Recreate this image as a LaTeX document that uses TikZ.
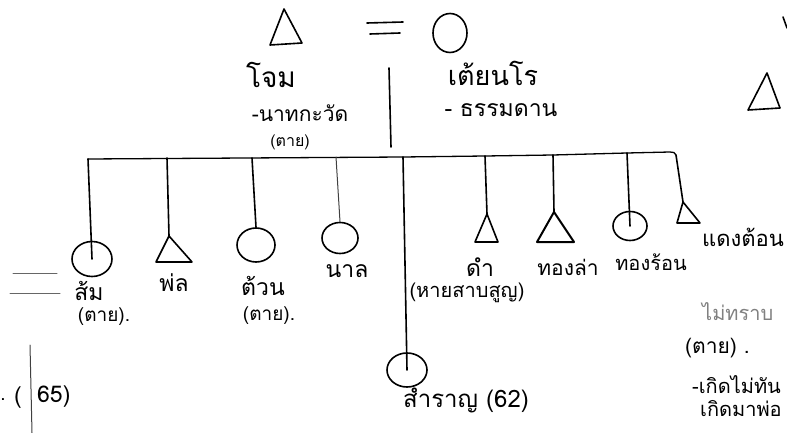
\documentclass[tikz,border=0pt]{standalone}
\usepackage{fontspec}
\newfontfamily\thai[Script=Thai]{Loma}
\usetikzlibrary{shapes.geometric}
\begin{document}
\begin{tikzpicture}[x=1pt,y=-1pt,
  hand/.style={line width=1.6pt,black,line cap=round,line join=round},
  thin hand/.style={line width=1pt,black!75,line cap=round},
  ell/.style={ellipse,draw,line width=1.6pt,inner sep=0pt},
  tri/.style={hand},
  nmtext/.style={font=\thai\fontsize{23}{25}\selectfont,inner sep=0pt},
  nttext/.style={font=\thai\fontsize{19}{21}\selectfont,inner sep=0pt}]
\useasboundingbox (0,0) rectangle (787,433);
\clip (0,0) rectangle (787,433);
% parents
\coordinate (fa) at (284,9);
\draw[tri] (fa) -- (270,45) -- (302,43) -- cycle;
\draw[hand] (367,23) -- (403,22);
\draw[hand] (370,34) -- (400,33);
\node[ell,minimum width=34pt,minimum height=39pt] (mo) at (450,33) {};
\node[nmtext,font=\thai\fontsize{28}{30}\selectfont] (tfa) at (271,75) {โจม};
\node[nmtext,font=\thai\fontsize{21}{23}\selectfont] (tfa2) at (300,113) {-นาทกะวัด};
\node[nttext,font=\thai\fontsize{16}{18}\selectfont] (tfa3) at (290,142) {(ตาย)};
\node[nmtext,font=\thai\fontsize{27}{29}\selectfont] (tmo) at (493,73) {เต้ยนโร};
\node[nmtext] (tmo2) at (501,110) {- ธรรมดาน};
\coordinate (m1) at (389,68);
\coordinate (m2) at (391,147);
\draw[hand] (m1) -- (m2);
% right triangle at top
\coordinate (rt) at (767,73);
\draw[tri] (rt) -- (748,110) -- (780,108) -- cycle;
\coordinate (ed1) at (783,17);
\coordinate (ed2) at (787,28);
\draw[hand] (ed1) -- (ed2);
% sibling bar
\coordinate (b1) at (88,159);
\coordinate (b2) at (167,158);
\coordinate (b3) at (252,158);
\coordinate (b4) at (336,157);
\coordinate (b5) at (403,157);
\coordinate (b6) at (485,156);
\coordinate (b7) at (553,155);
\coordinate (b8) at (627,153);
\coordinate (b9) at (676,155);
\draw[line width=1.3pt,line cap=round] (b1) -- (b5) -- (b6) -- (b7) -- (b8) -- (670,152) to[out=0,in=95] (b9);
% children
\node[ell,minimum width=40pt,minimum height=35pt] (som) at (92,259) {};
\draw[hand] (b1) -- (som.center);
\node[nmtext] (tsom) at (89,291) {ส้ม};
\node[nttext] (tsom2) at (104,317) {(ตาย).};

\coordinate (pol) at (169,236);
\draw[hand] (b2) -- (pol);
\draw[tri] (pol) -- (156,262) -- (192,262) -- cycle;
\node[nmtext] (tpol) at (174,283) {พ่ล};

\node[ell,minimum width=38pt,minimum height=34pt] (tuan) at (256,245) {};
\draw[hand] (b3) -- (tuan.north);
\node[nmtext] (ttuan) at (263,286) {ต้วน};
\node[nttext] (ttuan2) at (269,316) {(ตาย).};

\node[ell,minimum width=36pt,minimum height=31pt] (nal) at (340,238) {};
\draw[thin hand] (b4) -- (nal.north);
\node[nmtext] (tnal) at (347,271) {นาล};

\node[ell,minimum width=40pt,minimum height=34pt] (sam) at (407,370) {};
\draw[hand] (b5) -- (sam.center);
\node[nmtext,font=\thai\fontsize{24}{26}\selectfont] (tsam) at (466,400) {สำราญ (62)};

\coordinate (dam) at (487,214);
\draw[hand] (b6) -- (dam);
\draw[tri] (dam) -- (475,242) -- (498,242) -- cycle;
\node[nmtext] (tdam) at (480,267) {ดำ};
\node[nttext,font=\thai\fontsize{20}{22}\selectfont] (tdam2) at (467,293) {(หายสาบสูญ)};

\coordinate (tl) at (554,212);
\draw[hand] (b7) -- (tl);
\draw[tri,line width=2pt] (tl) -- (537,242) -- (574,242) -- cycle;
\node[nmtext,font=\thai\fontsize{21}{23}\selectfont] (ttl) at (568,267) {ทองล่า};

\node[ell,minimum width=34pt,minimum height=29pt] (tr) at (630,226) {};
\draw[hand] (b8) -- (tr.center);
\node[nmtext,font=\thai\fontsize{20}{22}\selectfont] (ttr) at (651,262) {ทองร้อน};

\coordinate (dt) at (683,202);
\draw[hand] (b9) -- (dt);
\draw[tri] (dt) -- (677,223) -- (700,223) -- cycle;
\node[nmtext,anchor=west,font=\thai\fontsize{22}{24}\selectfont] (tdt) at (702,237) {แดงต้อน};

% right bottom notes
\node[nttext,anchor=west,text=black!50,font=\thai\fontsize{20}{22}\selectfont] (r1) at (702,312) {ไม่ทราบ};
\node[nttext,anchor=west,font=\thai\fontsize{21}{23}\selectfont] (r2) at (685,348) {(ตาย) .};
\node[nttext,anchor=west,font=\thai\fontsize{20}{22}\selectfont] (r3) at (692,385) {-เกิดไม่ทัน};
\node[nttext,anchor=west,font=\thai\fontsize{20}{22}\selectfont] (r4) at (700,409) {เกิดมาพ่อ};

% left bottom
\draw[thin hand,black!60] (13,273) -- (57,273);
\draw[thin hand,black!60] (10,293) -- (60,293);
\coordinate (v1) at (30,345);
\coordinate (v2) at (32,433);
\draw[thin hand] (v1) -- (v2);
\node[nmtext] (lp) at (18,398) {(};
\node[nttext] (ld) at (3,400) {.};
\node[nmtext,anchor=west] (l65) at (37,397) {65)};
\end{tikzpicture}
\end{document}
